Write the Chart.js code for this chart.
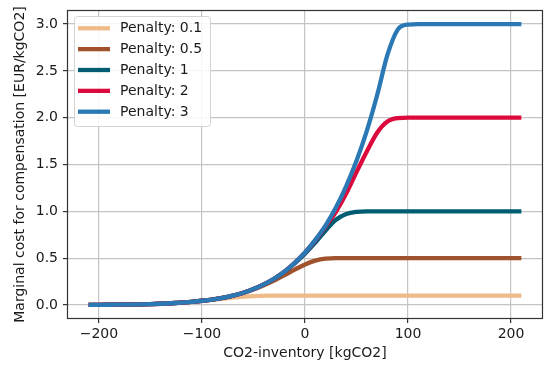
<!DOCTYPE html>
<html lang="en">
<head>
  <meta charset="UTF-8">
  <title>Marginal cost for compensation</title>
  <script src="https://cdn.jsdelivr.net/npm/chart.js"></script>
  <style>
    html, body { margin: 0; padding: 0; background: #ffffff; }
    #wrap { width: 548px; height: 365px; }
  </style>
</head>
<body>
<div id="wrap"><canvas id="costChart"></canvas></div>

<script>
  // CO2-inventory [kgCO2], every 10 from -210 to 210
  const inventory = [
    -210, -200, -190, -180, -170, -160, -150, -140, -130, -120, -110,
    -100, -90, -80, -70, -60, -50, -40, -30, -20, -10,
    0, 10, 20, 30, 40, 50, 60, 70, 80, 90,
    100, 110, 120, 130, 140, 150, 160, 170, 180, 190, 200, 210
  ];

  const penaltyLabels = ['Penalty: 0.1', 'Penalty: 0.5', 'Penalty: 1', 'Penalty: 2', 'Penalty: 3'];

  // marginal cost [EUR/kgCO2]
  const cost01 = [
    0.000, 0.001, 0.002, 0.003, 0.004, 0.006, 0.009, 0.013, 0.018, 0.025, 0.033,
    0.043, 0.054, 0.066, 0.078, 0.088, 0.095, 0.098, 0.100, 0.100, 0.100,
    0.100, 0.100, 0.100, 0.100, 0.100, 0.100, 0.100, 0.100, 0.100, 0.100,
    0.100, 0.100, 0.100, 0.100, 0.100, 0.100, 0.100, 0.100, 0.100, 0.100, 0.100, 0.100
  ];
  const cost05 = [
    0.000, 0.001, 0.002, 0.003, 0.004, 0.006, 0.009, 0.013, 0.018, 0.025, 0.034,
    0.045, 0.058, 0.075, 0.098, 0.128, 0.165, 0.210, 0.260, 0.318, 0.378,
    0.433, 0.474, 0.495, 0.500, 0.500, 0.500, 0.500, 0.500, 0.500, 0.500,
    0.500, 0.500, 0.500, 0.500, 0.500, 0.500, 0.500, 0.500, 0.500, 0.500, 0.500, 0.500
  ];
  const cost1 = [
    0.000, 0.001, 0.002, 0.003, 0.004, 0.006, 0.009, 0.013, 0.018, 0.025, 0.034,
    0.045, 0.058, 0.075, 0.099, 0.130, 0.170, 0.220, 0.280, 0.355, 0.445,
    0.548, 0.665, 0.795, 0.910, 0.972, 0.995, 1.000, 1.000, 1.000, 1.000,
    1.000, 1.000, 1.000, 1.000, 1.000, 1.000, 1.000, 1.000, 1.000, 1.000, 1.000, 1.000
  ];
  const cost2 = [
    0.000, 0.001, 0.002, 0.003, 0.004, 0.006, 0.009, 0.013, 0.018, 0.025, 0.034,
    0.045, 0.058, 0.075, 0.099, 0.130, 0.170, 0.220, 0.280, 0.355, 0.450,
    0.560, 0.690, 0.840, 0.995, 1.190, 1.420, 1.640, 1.840, 1.960, 1.995,
    2.000, 2.000, 2.000, 2.000, 2.000, 2.000, 2.000, 2.000, 2.000, 2.000, 2.000, 2.000
  ];
  const cost3 = [
    0.000, 0.001, 0.002, 0.003, 0.004, 0.006, 0.009, 0.013, 0.018, 0.025, 0.034,
    0.045, 0.058, 0.075, 0.099, 0.130, 0.170, 0.220, 0.280, 0.355, 0.450,
    0.560, 0.695, 0.850, 1.040, 1.270, 1.540, 1.860, 2.240, 2.670, 2.940,
    2.995, 3.000, 3.000, 3.000, 3.000, 3.000, 3.000, 3.000, 3.000, 3.000, 3.000, 3.000
  ];

  const xTicks = [-200, -100, 0, 100, 200];
  const yTicks = [0, 0.5, 1, 1.5, 2, 2.5, 3];

  const seriesValues = [cost01, cost05, cost1, cost2, cost3];
  const seriesColors = ['#EEBB88', '#A0522D', '#005C73', '#DC0A3C', '#2A78B4'];

  const FONT = 'DejaVu Sans';

  // legend box inside the plot + frame round the axes (matplotlib look)
  const innerLegend = {
    id: 'innerLegend',
    afterDatasetsDraw(chart) {
      const { ctx, chartArea } = chart;
      ctx.save();
      // frame
      ctx.strokeStyle = '#333333';
      ctx.lineWidth = 1.2;
      ctx.strokeRect(chartArea.left + 0.5, chartArea.top + 0.5,
        chartArea.right - chartArea.left - 1, chartArea.bottom - chartArea.top - 1);

      // legend
      const x0 = chartArea.left + 7, y0 = chartArea.top + 6;
      const w = 136, h = 110, rowH = 20.85;
      ctx.fillStyle = 'rgba(255,255,255,0.85)';
      ctx.strokeStyle = '#d4d4d4';
      ctx.lineWidth = 1;
      ctx.beginPath();
      ctx.roundRect(x0 + 0.5, y0 + 0.5, w, h, 3);
      ctx.fill();
      ctx.stroke();
      ctx.font = '14px "' + FONT + '"';
      ctx.textBaseline = 'middle';
      chart.data.datasets.forEach((ds, i) => {
        const y = y0 + 12.3 + i * rowH;
        ctx.strokeStyle = ds.borderColor;
        ctx.lineWidth = 4.3;
        ctx.beginPath();
        ctx.moveTo(x0 + 4, y);
        ctx.lineTo(x0 + 36, y);
        ctx.stroke();
        ctx.fillStyle = '#1a1a1a';
        ctx.fillText(ds.label, x0 + 46, y + 0.5);
      });
      ctx.restore();
    }
  };

  new Chart(document.getElementById('costChart'), {
    type: 'line',
    data: {
      labels: inventory,
      datasets: penaltyLabels.map((label, i) => ({
        label: label,
        data: inventory.map((x, j) => ({ x: x, y: seriesValues[i][j] })),
        borderColor: seriesColors[i],
        backgroundColor: seriesColors[i],
        borderWidth: 4.3,
        pointRadius: 0,
        cubicInterpolationMode: 'monotone',
        borderCapStyle: 'butt',
        order: penaltyLabels.length - i
      }))
    },
    options: {
      responsive: true,
      maintainAspectRatio: false,
      animation: false,
      layout: { padding: { left: 8, right: 5, top: 10, bottom: 3 } },
      plugins: {
        legend: { display: false },
        tooltip: { enabled: false }
      },
      scales: {
        x: {
          type: 'linear',
          min: -231,
          max: 231,
          afterBuildTicks: s => { s.ticks = xTicks.map(v => ({ value: v })); },
          ticks: {
            color: '#1a1a1a',
            font: { family: FONT, size: 14 },
            padding: 3,
            maxRotation: 0,
            callback: v => String(v).replace('-', '\u2212')
          },
          grid: { color: '#c4c4c4', tickColor: '#333333', tickLength: 4, lineWidth: 1.2 },
          border: { display: false },
          title: {
            display: true,
            text: 'CO2-inventory [kgCO2]',
            color: '#1a1a1a',
            font: { family: FONT, size: 14 },
            padding: { top: 2, bottom: 0 }
          },
          afterFit: s => { s.height = 43; s.paddingLeft = 0; s.paddingRight = 0; }
        },
        y: {
          min: -0.15,
          max: 3.15,
          afterBuildTicks: s => { s.ticks = yTicks.map(v => ({ value: v })); },
          ticks: {
            color: '#1a1a1a',
            font: { family: FONT, size: 14 },
            padding: 5,
            callback: v => v.toFixed(1)
          },
          grid: { color: '#c4c4c4', tickColor: '#333333', tickLength: 4, lineWidth: 1.2 },
          border: { display: false },
          title: {
            display: true,
            text: 'Marginal cost for compensation [EUR/kgCO2]',
            color: '#1a1a1a',
            font: { family: FONT, size: 14 },
            padding: { top: 4, bottom: 4 }
          },
          afterFit: s => { s.width = 59; s.paddingTop = 0; s.paddingBottom = 0; }
        }
      }
    },
    plugins: [innerLegend]
  });
</script>
</body>
</html>
